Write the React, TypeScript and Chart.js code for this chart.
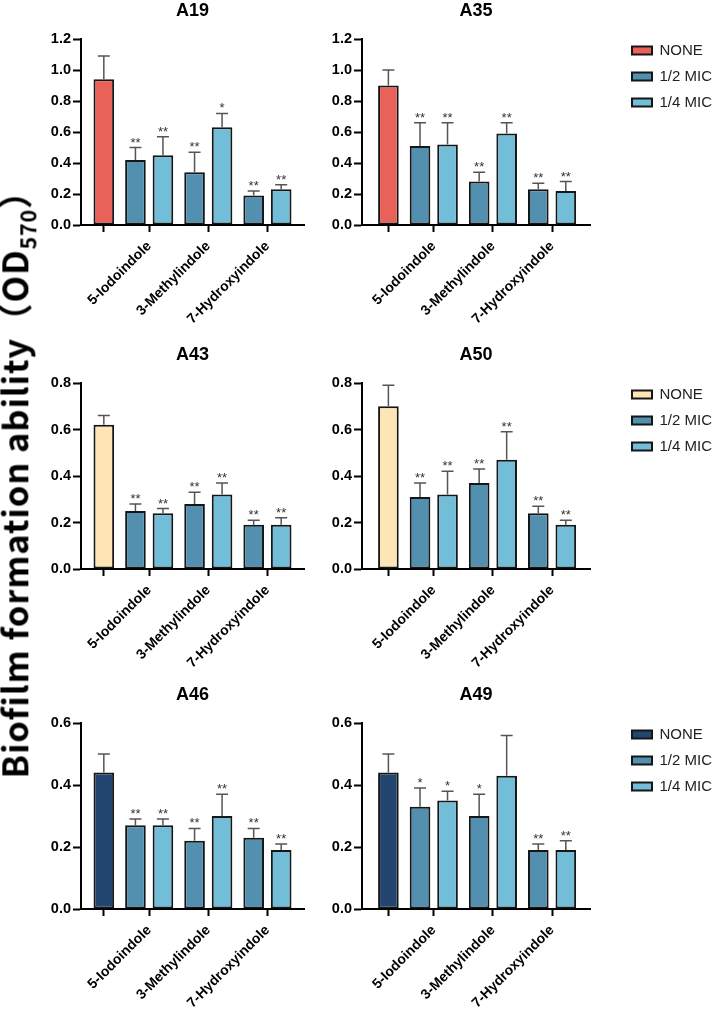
import React, { useEffect, useRef } from "react";
import { Chart, registerables } from "chart.js";

Chart.register(...registerables);
Chart.defaults.font.family = '"Liberation Sans", Arial, sans-serif';

const groups = ["5-Iodoindole", "3-Methylindole", "7-Hydroxyindole"];
const seriesNames = ["NONE", "1/2 MIC", "1/4 MIC"];
const strains = ["A19", "A35", "A43", "A50", "A46", "A49"];
const yMax = [1.2, 1.2, 0.8, 0.8, 0.6, 0.6];

const noneMean = [0.94, 0.9, 0.62, 0.7, 0.44, 0.44];
const noneErr = [0.15, 0.1, 0.04, 0.09, 0.06, 0.06];

const halfMean = [
  [0.42, 0.34, 0.19],
  [0.51, 0.28, 0.23],
  [0.25, 0.28, 0.19],
  [0.31, 0.37, 0.24],
  [0.27, 0.22, 0.23],
  [0.33, 0.3, 0.19],
];
const halfErr = [
  [0.08, 0.13, 0.03],
  [0.15, 0.06, 0.04],
  [0.03, 0.05, 0.02],
  [0.06, 0.06, 0.03],
  [0.02, 0.04, 0.03],
  [0.06, 0.07, 0.02],
];
const halfSig = [
  ["**", "**", "**"],
  ["**", "**", "**"],
  ["**", "**", "**"],
  ["**", "**", "**"],
  ["**", "**", "**"],
  ["*", "*", "**"],
];

const quarterMean = [
  [0.45, 0.63, 0.23],
  [0.52, 0.59, 0.22],
  [0.24, 0.32, 0.19],
  [0.32, 0.47, 0.19],
  [0.27, 0.3, 0.19],
  [0.35, 0.43, 0.19],
];
const quarterErr = [
  [0.12, 0.09, 0.03],
  [0.14, 0.07, 0.06],
  [0.02, 0.05, 0.03],
  [0.1, 0.12, 0.02],
  [0.02, 0.07, 0.02],
  [0.03, 0.13, 0.03],
];
const quarterSig = [
  ["**", "*", "**"],
  ["**", "**", "**"],
  ["**", "**", "**"],
  ["**", "**", "**"],
  ["**", "**", "**"],
  ["*", "", "**"],
];

// styling / layout
const noneColors = ["#e8625a", "#fde5b6", "#22466f"];
const halfColor = "#5390af";
const quarterColor = "#72bdd8";
const edge = "#161616";

const GROUP_START = 1.65;
const GROUP_STEP = 2.15;
const PAIR_HALF = 0.5;

const ROW_TOP = [0, 344, 684];
const ROW_H = [340, 340, 325];
const COLS = [
  { left: 30, width: 280, axisW: 51, padRight: 6, min: -0.83, max: 7.28 },
  { left: 310, width: 409, axisW: 52, padRight: 0, min: -0.96, max: 7.33 },
];
const PLOT_TOP = 39;
const PLOT_BOTTOM = 225;
const LEGEND_W = 129;
const TITLE_SIZE = 18;

const groupCenter = (g: number) => GROUP_START + g * GROUP_STEP;
const xTicks = [0, ...groups.map((_, g) => groupCenter(g))];
const xLabels = ["", ...groups];

const errorBars = {
  id: "errorBars",
  afterDatasetsDraw(chart: any) {
    const { ctx } = chart;
    const yScale = chart.scales.y;
    chart.data.datasets.forEach((ds: any, d: number) => {
      const meta = chart.getDatasetMeta(d);
      meta.data.forEach((bar: any, i: number) => {
        const top = yScale.getPixelForValue(ds.data[i].y + ds.errors[i]);
        ctx.save();
        ctx.strokeStyle = "#555";
        ctx.lineWidth = 1.5;
        ctx.beginPath();
        ctx.moveTo(bar.x, bar.y);
        ctx.lineTo(bar.x, top);
        ctx.moveTo(bar.x - 6, top);
        ctx.lineTo(bar.x + 6, top);
        ctx.stroke();
        const mark = ds.marks[i];
        if (mark) {
          ctx.fillStyle = "#333";
          ctx.font = '13px "Liberation Sans", Arial';
          ctx.textAlign = "center";
          ctx.textBaseline = "alphabetic";
          ctx.fillText(mark, bar.x, top - 1);
        }
        ctx.restore();
      });
    });
  },
};

// keep the legend a fixed width and move it to sit where the original has it
const legendSlot = {
  id: "legendSlot",
  afterInit(chart: any) {
    const lg = chart.legend;
    if (!lg) return;
    const fit = lg.fit.bind(lg);
    lg.fit = () => {
      fit();
      if (lg.options.display) lg.width = LEGEND_W;
    };
  },
  afterLayout(chart: any) {
    const lg = chart.legend;
    if (!lg || !lg.options.display) return;
    lg.left = chart.chartArea.right + 31;
    lg.top = 32;
  },
};

function Panel({ index }: { index: number }) {
  const ref = useRef<HTMLCanvasElement | null>(null);
  const row = Math.floor(index / 2);
  const col = COLS[index % 2];
  const withLegend = index % 2 === 1;

  useEffect(() => {
    if (!ref.current) return;
    const chart = new Chart(ref.current, {
      type: "bar",
      data: {
        datasets: [
          {
            label: seriesNames[0],
            data: [{ x: 0, y: noneMean[index] }],
            errors: [noneErr[index]],
            marks: [""],
            backgroundColor: noneColors[row],
          },
          {
            label: seriesNames[1],
            data: groups.map((_, g) => ({ x: groupCenter(g) - PAIR_HALF, y: halfMean[index][g] })),
            errors: halfErr[index],
            marks: halfSig[index],
            backgroundColor: halfColor,
          },
          {
            label: seriesNames[2],
            data: groups.map((_, g) => ({ x: groupCenter(g) + PAIR_HALF, y: quarterMean[index][g] })),
            errors: quarterErr[index],
            marks: quarterSig[index],
            backgroundColor: quarterColor,
          },
        ].map((ds) => ({
          ...ds,
          borderColor: edge,
          borderWidth: 2,
          borderSkipped: false,
          grouped: false,
          barPercentage: 0.75,
          categoryPercentage: 1,
        })) as any,
      },
      options: {
        animation: false,
        responsive: false,
        events: [],
        layout: { padding: { left: 0, right: col.padRight, top: 0, bottom: 0 } },
        plugins: {
          title: {
            display: true,
            text: strains[index],
            fullSize: false,
            color: "#000",
            font: { size: TITLE_SIZE, weight: "bold" },
            padding: { top: 0, bottom: PLOT_TOP - TITLE_SIZE * 1.2 },
          },
          legend: {
            display: withLegend,
            position: "right",
            align: "start",
            labels: {
              boxWidth: 20,
              boxHeight: 8,
              padding: 11,
              color: "#222",
              font: { size: 15 },
            },
          },
          tooltip: { enabled: false },
        },
        scales: {
          x: {
            type: "linear",
            min: col.min,
            max: col.max,
            offset: false,
            z: 1,
            afterBuildTicks: (s: any) => {
              s.ticks = xTicks.map((value) => ({ value }));
            },
            afterFit: (s: any) => {
              s.height = ROW_H[row] - PLOT_BOTTOM;
            },
            ticks: {
              autoSkip: false,
              minRotation: 45,
              maxRotation: 45,
              padding: 6,
              color: "#000",
              font: { size: 14, weight: "bold" },
              callback: (_v: any, i: number) => xLabels[i],
            },
            grid: {
              drawOnChartArea: false,
              offset: false,
              tickLength: 7,
              tickColor: "#000",
              tickWidth: 2,
            },
            border: { color: "#000", width: 2 },
          },
          y: {
            min: 0,
            max: yMax[index],
            afterFit: (s: any) => {
              s.width = col.axisW;
            },
            ticks: {
              stepSize: 0.2,
              padding: 2,
              color: "#000",
              font: { size: 14.5, weight: "bold" },
              callback: (v: any) => Number(v).toFixed(1),
            },
            grid: {
              drawOnChartArea: false,
              tickLength: 8,
              tickColor: "#000",
              tickWidth: 2,
            },
            border: { color: "#000", width: 2 },
          },
        },
      } as any,
      plugins: [errorBars, legendSlot],
    });
    return () => {
      chart.destroy();
    };
  }, [index]);

  return (
    <canvas
      ref={ref}
      width={col.width}
      height={ROW_H[row]}
      style={{ position: "absolute", left: col.left, top: ROW_TOP[row], width: col.width, height: ROW_H[row] }}
    />
  );
}

export default function App() {
  return (
    <div style={{ position: "absolute", left: 0, top: 0, width: 719, height: 1009, background: "#fff", overflow: "hidden" }}>
      {strains.map((s, i) => (
        <Panel key={s} index={i} />
      ))}
      <div
        style={{
          position: "absolute",
          left: 17,
          top: 476,
          transform: "translate(-50%, -50%) rotate(-90deg)",
          whiteSpace: "nowrap",
          fontFamily: '"Noto Sans CJK SC", "Noto Sans", sans-serif',
          fontWeight: 700,
          fontSize: 34.5,
          letterSpacing: 0.9,
          lineHeight: 1,
          color: "#000",
        }}
      >
        Biofilm formation ability（OD<sub style={{ fontSize: "0.62em" }}>570</sub>）
      </div>
    </div>
  );
}
